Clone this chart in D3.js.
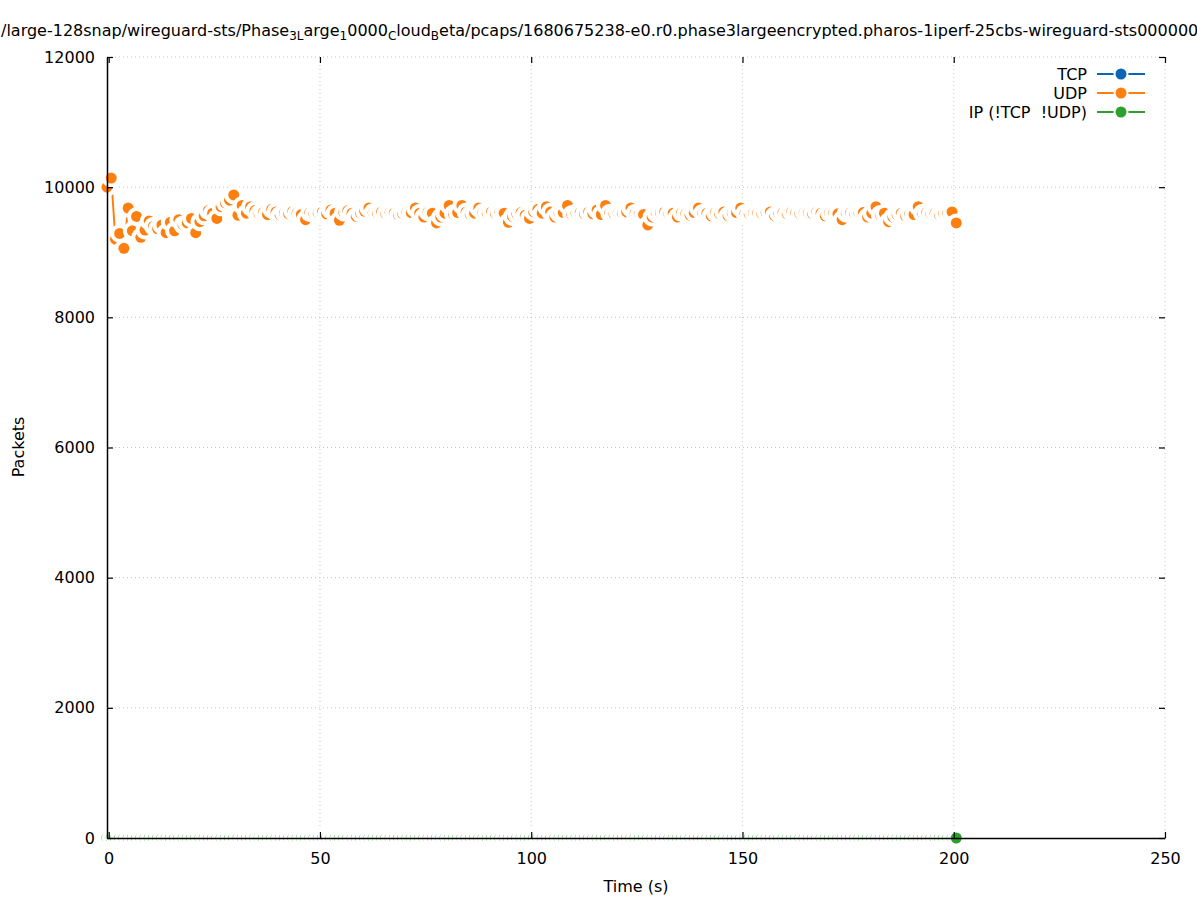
<!DOCTYPE html>
<html>
<head>
<meta charset="utf-8">
<script src="https://cdn.jsdelivr.net/npm/d3@7"></script>
<style>
  body { margin: 0; background: #fff; }
  text { font-family: "DejaVu Sans", sans-serif; font-size: 16px; fill: #000; }
</style>
</head>
<body>
<svg width="1197" height="900"></svg>
<script>
// samples are one per second, first one at udpStart
const udpStart = -0.4;
const udpPackets = [
  10000, 10140, 9200, 9290, 9060, 9680, 9330, 9550, 9230, 9340,
  9480, 9400, 9360, 9420, 9300, 9460, 9330, 9500, 9420, 9450,
  9520, 9300, 9470, 9560, 9640, 9600, 9520, 9700, 9760, 9800,
  9880, 9570, 9720, 9600, 9700, 9640, 9590, 9610, 9580, 9660,
  9620, 9570, 9600, 9590, 9630, 9600, 9580, 9500, 9610, 9590,
  9600, 9620, 9590, 9650, 9600, 9490, 9620, 9640, 9600, 9550,
  9600, 9630, 9680, 9610, 9600, 9620, 9590, 9610, 9600, 9570,
  9590, 9620, 9610, 9680, 9600, 9540, 9620, 9600, 9450, 9540,
  9600, 9720, 9590, 9610, 9720, 9620, 9580, 9600, 9680, 9610,
  9600, 9620, 9590, 9610, 9600, 9460, 9550, 9590, 9610, 9570,
  9520, 9620, 9660, 9600, 9700, 9620, 9540, 9600, 9610, 9720,
  9580, 9600, 9610, 9590, 9620, 9590, 9650, 9580, 9720, 9600,
  9590, 9610, 9600, 9620, 9680, 9600, 9590, 9580, 9420, 9540,
  9600, 9610, 9620, 9590, 9600, 9540, 9610, 9590, 9570, 9610,
  9680, 9600, 9600, 9560, 9610, 9590, 9620, 9560, 9600, 9610,
  9680, 9600, 9590, 9610, 9600, 9590, 9610, 9620, 9560, 9600,
  9610, 9590, 9620, 9600, 9590, 9610, 9600, 9590, 9620, 9600,
  9560, 9610, 9600, 9590, 9500, 9600, 9610, 9590, 9600, 9610,
  9540, 9600, 9700, 9580, 9600, 9470, 9540, 9580, 9600, 9560,
  9590, 9580, 9700, 9600, 9610, 9590, 9600, 9580, 9600, 9610,
  9620, 9450
];
const ipPackets = [
  0,0,0,0,0,0,0,0,0,0, 0,0,0,0,0,0,0,0,0,0, 0,0,0,0,0,0,0,0,0,0,
  0,0,0,0,0,0,0,0,0,0, 0,0,0,0,0,0,0,0,0,0, 0,0,0,0,0,0,0,0,0,0,
  0,0,0,0,0,0,0,0,0,0, 0,0,0,0,0,0,0,0,0,0, 0,0,0,0,0,0,0,0,0,0,
  0,0,0,0,0,0,0,0,0,0, 0,0,0,0,0,0,0,0,0,0, 0,0,0,0,0,0,0,0,0,0,
  0,0,0,0,0,0,0,0,0,0, 0,0,0,0,0,0,0,0,0,0, 0,0,0,0,0,0,0,0,0,0,
  0,0,0,0,0,0,0,0,0,0, 0,0,0,0,0,0,0,0,0,0, 0,0,0,0,0,0,0,0,0,0,
  0,0,0,0,0,0,0,0,0,0, 0,0,0,0,0,0,0,0,0,0, 0,0
];
const xTicks = [0, 50, 100, 150, 200, 250];
const yTicks = [0, 2000, 4000, 6000, 8000, 10000, 12000];
const legendNames = ["TCP", "UDP", "IP (!TCP  !UDP)"];

const colors = { TCP: "#0b64b4", UDP: "#ff7f0e", IP: "#2ca02c" };

const svg = d3.select("svg"),
  width = +svg.attr("width"),
  height = +svg.attr("height");

const pLeft = 107, pRight = 1165, pTop = 57, pBottom = 838;
const dotR = 5.5, haloR = 9.5;

const x = d3.scaleLinear().domain([-0.4, 250]).range([pLeft, pRight]);
const y = d3.scaleLinear().domain([0, 12000]).range([pBottom, pTop]);

// grid
svg.append("g").selectAll("line")
  .data(xTicks.filter(d => d > 0))
  .join("line")
  .attr("x1", d => x(d)).attr("x2", d => x(d))
  .attr("y1", pTop).attr("y2", pBottom)
  .attr("stroke", "#c4c4c4").attr("stroke-width", 1).attr("stroke-dasharray", "1,3");
svg.append("g").selectAll("line")
  .data(yTicks.filter(d => d > 0))
  .join("line")
  .attr("x1", pLeft).attr("x2", pRight)
  .attr("y1", d => y(d)).attr("y2", d => y(d))
  .attr("stroke", "#c4c4c4").attr("stroke-width", 1).attr("stroke-dasharray", "1,3");

const udp = udpPackets.map((v, i) => ({ t: udpStart + i, v: v }));
const ip = ipPackets.map((v, i) => ({ t: udpStart + i, v: v }));

const line = d3.line().x(d => x(d.t)).y(d => y(d.v));

function drawSeries(data, color) {
  svg.append("path")
    .datum(data)
    .attr("d", line)
    .attr("fill", "none")
    .attr("stroke", color)
    .attr("stroke-width", 2);
  const pts = svg.append("g").selectAll("g")
    .data(data)
    .join("g")
    .attr("transform", d => `translate(${x(d.t)},${y(d.v)})`);
  pts.append("circle").attr("r", haloR).attr("fill", "#fff");
  pts.append("circle").attr("r", dotR).attr("fill", color);
}

drawSeries(udp, colors.UDP);
drawSeries(ip, colors.IP);

// axes, ticks pointing inward on all four sides
const axisLeft = svg.append("g")
  .attr("transform", `translate(${pLeft},0)`)
  .call(d3.axisLeft(y).tickValues(yTicks).tickFormat(d3.format("d"))
    .tickSize(-6).tickSizeOuter(0).tickPadding(12));
const axisBottom = svg.append("g")
  .attr("transform", `translate(0,${pBottom})`)
  .call(d3.axisBottom(x).tickValues(xTicks).tickFormat(d3.format("d"))
    .tickSize(-6).tickSizeOuter(0).tickPadding(15));
const axisRight = svg.append("g")
  .attr("transform", `translate(${pRight},0)`)
  .call(d3.axisRight(y).tickValues(yTicks).tickSize(-6).tickFormat(""));
const axisTop = svg.append("g")
  .attr("transform", `translate(0,${pTop})`)
  .call(d3.axisTop(x).tickValues(xTicks).tickSize(-6).tickFormat(""));
axisRight.select(".domain").remove();
axisTop.select(".domain").remove();

svg.selectAll(".domain").attr("stroke", "#000").attr("stroke-width", 1.5);
svg.selectAll(".tick line").attr("stroke", "#000").attr("stroke-width", 1.2);
svg.selectAll(".tick text")
  .style("font-family", "DejaVu Sans, sans-serif")
  .style("font-size", "16px")
  .attr("fill", "#000");

// axis titles
svg.append("text")
  .attr("x", (pLeft + pRight) / 2).attr("y", 892)
  .attr("text-anchor", "middle")
  .text("Time (s)");
svg.append("text")
  .attr("transform", "translate(24,447) rotate(-90)")
  .attr("text-anchor", "middle")
  .text("Packets");

// title with enhanced-text subscripts (too long for the page, cut at both edges like the original)
const titleParts = [
  ["/large-128snap/wireguard-sts/Phase", 0], ["3L", 1], ["arge", 0], ["1", 1],
  ["0000", 0], ["C", 1], ["loud", 0], ["B", 1],
  ["eta/pcaps/1680675238-e0.r0.phase3largeencrypted.pharos-1iperf-25cbs-wireguard-sts0000000000", 0]
];
const title = svg.append("text").attr("x", 1).attr("y", 36);
let prevSub = 0;
titleParts.forEach(([s, sub]) => {
  title.append("tspan")
    .attr("dy", (sub - prevSub) * 4)
    .style("font-size", sub ? "12px" : "16px")
    .text(s);
  prevSub = sub;
});

// legend
const legendColors = [colors.TCP, colors.UDP, colors.IP];
const legend = svg.append("g").selectAll("g")
  .data(legendNames)
  .join("g")
  .attr("transform", (d, i) => `translate(0,${74 + i * 19})`);
legend.append("text")
  .attr("x", 1087).attr("dy", "0.35em")
  .attr("text-anchor", "end")
  .attr("xml:space", "preserve")
  .style("white-space", "pre")
  .text(d => d);
legend.append("line")
  .attr("x1", 1097).attr("x2", 1145)
  .attr("stroke", (d, i) => legendColors[i]).attr("stroke-width", 2);
legend.append("circle").attr("cx", 1121).attr("r", 7.5).attr("fill", "#fff");
legend.append("circle").attr("cx", 1121).attr("r", dotR).attr("fill", (d, i) => legendColors[i]);
</script>
</body>
</html>
